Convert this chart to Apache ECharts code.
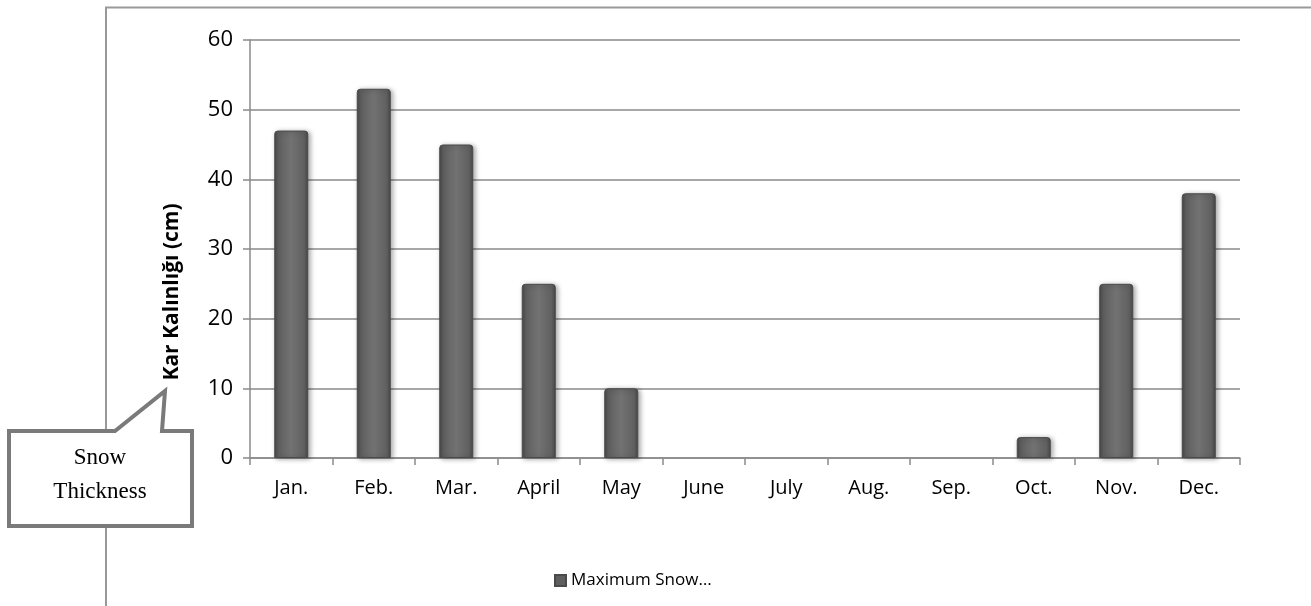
<!DOCTYPE html>
<html>
<head>
<meta charset="utf-8">
<script src="https://cdn.jsdelivr.net/npm/echarts@6/dist/echarts.min.js"></script>
<style>
  html, body { margin: 0; padding: 0; background: #ffffff; }
  #chart { width: 1311px; height: 606px; }
</style>
</head>
<body>
<div id="chart"></div>
<script>
// Monthly maximum snow thickness (cm)
const months = ['Jan.', 'Feb.', 'Mar.', 'April', 'May', 'June', 'July', 'Aug.', 'Sep.', 'Oct.', 'Nov.', 'Dec.'];
const maxSnow = [47, 53, 45, 25, 10, 0, 0, 0, 0, 3, 25, 38];
const seriesName = 'Maximum Snow…';
const yAxisTitle = 'Kar Kalınlığı (cm)';
const calloutLines = ['Snow', 'Thickness'];

const chart = echarts.init(document.getElementById('chart'), null, { renderer: 'canvas' });

const barFill = new echarts.graphic.LinearGradient(0, 0, 1, 0, [
  { offset: 0, color: '#474747' },
  { offset: 0.12, color: '#606060' },
  { offset: 0.5, color: '#727272' },
  { offset: 0.88, color: '#606060' },
  { offset: 1, color: '#474747' }
]);

// empty months draw nothing (no outline or shadow)
const barData = maxSnow.map(v => v === 0 ? { value: v, itemStyle: { opacity: 0 } } : v);

const option = {
  backgroundColor: '#ffffff',
  animation: false,
  grid: { left: 250, right: 71, top: 40, bottom: 148, containLabel: false },
  legend: {
    left: 549,
    top: 567,
    itemWidth: 11,
    itemHeight: 11,
    icon: 'rect',
    textStyle: { fontFamily: 'Open Sans', fontSize: 17, color: '#000' },
    data: [{ name: seriesName, itemStyle: { color: '#5e5e5e' } }]
  },
  xAxis: {
    type: 'category',
    data: months,
    axisLine: { lineStyle: { color: '#8a8a8a', width: 1.5 } },
    axisTick: { show: true, alignWithLabel: false, length: 7, lineStyle: { color: '#8a8a8a', width: 1.5 } },
    axisLabel: { margin: 20, color: '#000', fontFamily: 'Open Sans', fontSize: 20 }
  },
  yAxis: {
    type: 'value',
    min: 0,
    max: 60,
    interval: 10,
    axisLine: { show: true, lineStyle: { color: '#8a8a8a', width: 1.5 } },
    axisTick: { show: true, length: 7, lineStyle: { color: '#8a8a8a', width: 1.5 } },
    axisLabel: { margin: 17, color: '#000', fontFamily: 'Open Sans', fontSize: 22 },
    splitLine: { lineStyle: { color: '#8a8a8a', width: 1.5 } }
  },
  series: [{
    name: seriesName,
    type: 'bar',
    data: barData,
    barWidth: 34,
    itemStyle: {
      color: barFill,
      borderColor: '#4a4a4a',
      borderWidth: 1,
      borderRadius: [3, 3, 0, 0],
      shadowColor: 'rgba(0,0,0,0.35)',
      shadowBlur: 5,
      shadowOffsetX: 2,
      shadowOffsetY: 1
    }
  }],
  graphic: [
    // frame around the chart (top and left edges)
    { type: 'polyline', z: 0, shape: { points: [[106, 606], [106, 7.5], [1311, 7.5]] },
      style: { stroke: '#999999', lineWidth: 2, fill: null } },
    // axis title
    { type: 'text', x: 172, y: 292, rotation: Math.PI / 2, z: 10,
      style: { text: yAxisTitle, fontFamily: 'Open Sans', fontWeight: 'bold', fontSize: 21,
               fill: '#000', align: 'center', verticalAlign: 'middle' } },
    // speech-bubble callout
    { type: 'polygon', z: 20,
      shape: { points: [[9, 431], [115, 431], [165, 391], [162, 431], [192, 431], [192, 526], [9, 526]] },
      style: { fill: '#ffffff', stroke: '#7a7a7a', lineWidth: 4, lineJoin: 'miter' } },
    { type: 'text', x: 100, y: 458, z: 21,
      style: { text: calloutLines[0], fontFamily: 'Liberation Serif', fontSize: 23, fill: '#000',
               align: 'center', verticalAlign: 'middle' } },
    { type: 'text', x: 100, y: 492, z: 21,
      style: { text: calloutLines[1], fontFamily: 'Liberation Serif', fontSize: 23, fill: '#000',
               align: 'center', verticalAlign: 'middle' } }
  ]
};

chart.setOption(option);
</script>
</body>
</html>
